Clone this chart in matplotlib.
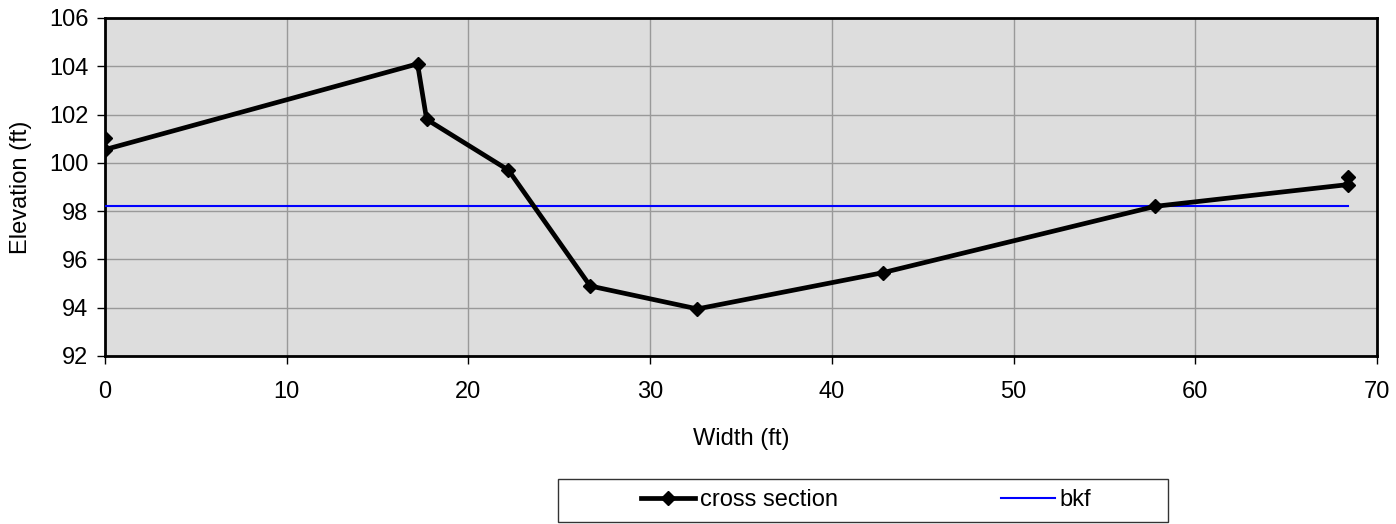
import matplotlib
matplotlib.use("Agg")
import matplotlib.pyplot as plt
from matplotlib.patches import Rectangle

plt.rcParams['font.family'] = ['Liberation Sans', 'DejaVu Sans']

width_ft = [0, 0, 17.2, 17.7, 22.2, 26.7, 32.6, 42.8, 57.8, 68.4, 68.4]
elev_ft = [101.05, 100.55, 104.1, 101.8, 99.7, 94.9, 93.95, 95.45, 98.2, 99.1, 99.4]
bkf_x = [0, 68.4]
bkf_y = [98.2, 98.2]
x_ticks = [0, 10, 20, 30, 40, 50, 60, 70]
y_ticks = [92, 94, 96, 98, 100, 102, 104, 106]

FS = 17

fig = plt.figure(figsize=(13.96, 5.24), dpi=100)
ax = fig.add_axes([105/1396, 1-356/524, (1377-105)/1396, (356-18)/524])
ax.set_facecolor('#DDDDDD')

ax.plot(bkf_x, bkf_y, color='#0000FF', lw=1.5, label='bkf', zorder=3)
ax.plot(width_ft, elev_ft, color='black', lw=3.4, marker='D', markersize=7.5,
        label='cross section', zorder=4)

ax.set_xlim(0, 70)
ax.set_ylim(92, 106)
ax.set_xticks(x_ticks)
ax.set_yticks(y_ticks)
ax.grid(True, color='#999999', lw=1)
ax.set_axisbelow(True)
for s in ax.spines.values():
    s.set_color('black')
    s.set_linewidth(2)
ax.tick_params(axis='both', labelsize=FS, length=6, width=1, color='black', direction='out')
ax.tick_params(axis='x', pad=12)
ax.tick_params(axis='y', pad=6)
ax.set_xlabel('Width (ft)', fontsize=FS, labelpad=18)
ax.set_ylabel('Elevation (ft)', fontsize=FS, labelpad=12)

# legend frame
fig.patches.append(Rectangle((558/1396, 1-522/524), 610/1396, 43/524,
                             transform=fig.transFigure, facecolor='white',
                             edgecolor='#333333', lw=1))
h, l = ax.get_legend_handles_labels()
order = [1, 0]
fig.legend([h[i] for i in order], [l[i] for i in order], loc='center',
           bbox_to_anchor=(866/1396, 1-500/524), ncol=2, frameon=False,
           fontsize=FS, handlelength=2.3, handletextpad=0.2, columnspacing=6.9)

fig.savefig('out.png', dpi=100)
